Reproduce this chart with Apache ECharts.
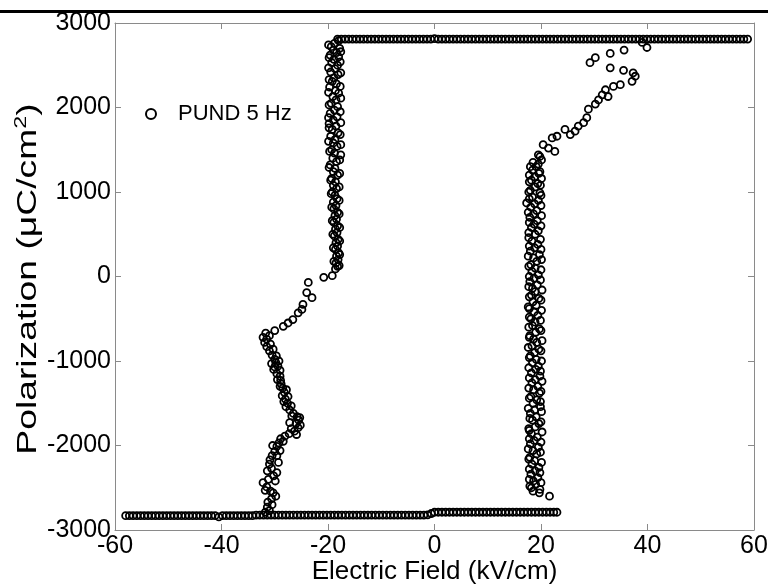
<!DOCTYPE html>
<html>
<head>
<meta charset="utf-8">
<script src="https://cdn.jsdelivr.net/npm/echarts@6/dist/echarts.min.js"></script>
<style>html,body{margin:0;padding:0;background:#fff;}#chart{width:768px;height:585px;}</style>
</head>
<body>
<div id="chart"></div>
<script>
// ---- data (E in kV/cm, P in uC/cm^2) ----
const xTicks = [-60, -40, -20, 0, 20, 40, 60];
const yTicks = [-3000, -2000, -1000, 0, 1000, 2000, 3000];
const seriesName = 'PUND 5 Hz';
const xTitle = 'Electric Field (kV/cm)';
const yTitle = '{a|Polarization (μC/cm}{b|2}{a|)}';

const topBranch = [[-18.2,2810],[-17.5,2810],[-16.8,2810],[-16.1,2810],[-15.4,2810],[-14.7,2810],[-14.0,2810],[-13.3,2810],[-12.6,2810],[-11.9,2810],[-11.2,2810],[-10.5,2810],[-9.8,2810],[-9.1,2810],[-8.4,2810],[-7.7,2810],[-7.0,2810],[-6.3,2810],[-5.6,2810],[-4.9,2810],[-4.2,2810],[-3.5,2810],[-2.8,2810],[-2.1,2810],[-1.4,2810],[-0.7,2810],[0.0,2815],[0.7,2810],[1.4,2810],[2.1,2810],[2.8,2810],[3.5,2810],[4.2,2810],[4.9,2810],[5.6,2810],[6.3,2810],[7.0,2810],[7.7,2810],[8.4,2810],[9.1,2810],[9.8,2810],[10.5,2810],[11.2,2810],[11.9,2810],[12.6,2810],[13.3,2810],[14.0,2810],[14.7,2810],[15.4,2810],[16.1,2810],[16.8,2810],[17.5,2810],[18.2,2810],[18.9,2810],[19.6,2810],[20.3,2810],[21.0,2810],[21.7,2810],[22.4,2810],[23.1,2810],[23.8,2810],[24.5,2810],[25.2,2810],[25.9,2810],[26.6,2810],[27.3,2810],[28.0,2810],[28.7,2810],[29.4,2810],[30.1,2810],[30.8,2810],[31.5,2810],[32.2,2810],[32.9,2810],[33.6,2810],[34.3,2810],[35.0,2810],[35.7,2810],[36.4,2810],[37.1,2810],[37.8,2810],[38.5,2810],[39.2,2810],[39.9,2810],[40.6,2810],[41.3,2810],[42.0,2810],[42.7,2810],[43.4,2810],[44.1,2810],[44.8,2810],[45.5,2810],[46.2,2810],[46.9,2810],[47.6,2810],[48.3,2810],[49.0,2810],[49.7,2810],[50.4,2810],[51.1,2810],[51.8,2810],[52.5,2810],[53.2,2810],[53.9,2810],[54.6,2810],[55.3,2810],[56.0,2810],[56.7,2810],[57.4,2810],[58.1,2810],[58.8,2810]];

const leftBand = [[-18.0,2790],[-18.8,2760],[-19.4,2720],[-17.8,2700],[-19.0,2680],[-18.4,2650],[-19.6,2620],[-18.0,2600],[-18.9,2570],[-19.3,2530],[-18.2,2500],[-18.7,2460],[-19.5,2420],[-18.1,2390],[-18.9,2350],[-19.2,2310],[-18.4,2280],[-19.7,2240],[-18.6,2200],[-18.0,2170],[-19.1,2130],[-18.5,2090],[-19.4,2050],[-18.2,2010],[-18.8,1970],[-19.6,1930],[-18.3,1890],[-19.0,1850],[-19.8,1810],[-18.5,1780],[-19.2,1740],[-18.1,1700],[-19.5,1660],[-18.7,1620],[-19.0,1580],[-18.3,1540],[-19.3,1500],[-18.8,1460],[-17.6,1440],[-19.1,1400],[-18.4,1360],[-19.6,1320],[-18.7,1280],[-19.0,1240],[-18.2,1200],[-19.3,1160],[-18.6,1120],[-19.0,1080],[-18.4,1040],[-19.2,1000],[-18.7,960],[-18.3,920],[-19.0,880],[-18.5,840],[-18.9,800],[-18.2,760],[-18.7,720],[-18.4,680],[-18.9,640],[-18.2,600],[-18.6,560],[-18.3,520],[-18.8,480],[-18.1,440],[-18.5,400],[-18.2,360],[-18.6,320],[-18.0,280],[-18.4,240],[-18.1,200],[-18.5,160],[-18.2,120],[-18.6,90]];

const leftBandOuter = [[-19.9,2740],[-17.6,2660],[-19.8,2590],[-17.7,2540],[-19.9,2470],[-17.6,2410],[-19.8,2330],[-17.7,2250],[-19.9,2180],[-17.6,2110],[-19.8,2030],[-17.7,1950],[-19.9,1880],[-17.6,1820],[-19.8,1760],[-17.7,1680],[-19.9,1600],[-17.6,1560],[-19.7,1480],[-17.8,1380],[-19.8,1290],[-17.8,1220],[-19.5,1140],[-17.9,1060],[-19.4,980],[-17.9,900],[-19.3,820],[-17.9,740],[-19.2,660],[-17.8,580],[-19.1,500],[-17.8,420],[-19.0,340],[-17.8,260],[-18.9,180],[-17.9,130]];

const leftSwitch = [[-19.2,10],[-20.8,-10],[-23.7,-70],[-24.0,-190],[-23.0,-250],[-24.7,-330],[-24.9,-390],[-25.6,-430],[-26.6,-510],[-27.5,-550],[-28.4,-590],[-30.0,-640],[-31.7,-670],[-32.2,-720],[-31.9,-780],[-31.5,-830],[-31.0,-880],[-30.5,-930],[-30.0,-980],[-29.8,-1020],[-30.0,-1070],[-29.4,-1060],[-30.2,-1100],[-29.6,-1150],[-29.0,-1180],[-29.5,-1220],[-28.8,-1270],[-28.5,-1320],[-28.2,-1370],[-28.6,-1410],[-28.0,-1450],[-27.6,-1500],[-27.9,-1540],[-27.2,-1580],[-26.5,-1620],[-25.3,-1670],[-25.8,-1660],[-25.5,-1700],[-27.2,-1730],[-26.0,-1740],[-25.6,-1790],[-26.3,-1830],[-27.3,-1860],[-28.1,-1890],[-28.9,-1920],[-29.2,-1970],[-29.6,-2010],[-30.0,-2070],[-29.6,-2120],[-30.9,-2170],[-31.0,-2220],[-30.6,-2270],[-29.6,-2320],[-30.2,-2360],[-31.2,-2400],[-32.2,-2440],[-31.5,-2490],[-30.8,-2540],[-30.3,-2560],[-30.6,-2630],[-31.3,-2670],[-31.4,-2730],[-31.0,-2770]];

const leftSwitchExtra = [[-31.0,-700],[-31.5,-740],[-30.8,-800],[-30.3,-860],[-29.7,-940],[-29.2,-1000],[-30.6,-1030],[-29.0,-1110],[-28.9,-1230],[-29.0,-1300],[-27.8,-1340],[-27.5,-1420],[-28.3,-1480],[-26.9,-1530],[-26.8,-1650],[-25.2,-1760],[-26.9,-1800],[-25.9,-1870],[-28.4,-1950],[-30.4,-2000],[-29.0,-2060],[-30.5,-2120],[-29.3,-2200],[-31.4,-2300],[-29.9,-2420],[-31.8,-2530],[-29.8,-2600],[-30.5,-2700],[-31.8,-2790]];

const bottomBranch = [[-58.0,-2830],[-57.3,-2830],[-56.6,-2830],[-55.9,-2830],[-55.2,-2830],[-54.5,-2830],[-53.8,-2830],[-53.1,-2830],[-52.4,-2830],[-51.7,-2830],[-51.0,-2830],[-50.3,-2830],[-49.6,-2830],[-48.9,-2830],[-48.2,-2830],[-47.5,-2830],[-46.8,-2830],[-46.1,-2830],[-45.4,-2830],[-44.7,-2830],[-44.0,-2830],[-43.3,-2830],[-42.6,-2830],[-41.9,-2830],[-41.2,-2830],[-40.5,-2845],[-39.8,-2830],[-39.1,-2830],[-38.4,-2830],[-37.7,-2830],[-37.0,-2830],[-36.3,-2830],[-35.6,-2830],[-34.9,-2830],[-34.2,-2830],[-33.5,-2825],[-32.8,-2825],[-32.1,-2825],[-31.4,-2825],[-30.7,-2825],[-30.0,-2825],[-29.3,-2825],[-28.6,-2825],[-27.9,-2825],[-27.2,-2825],[-26.5,-2825],[-25.8,-2825],[-25.1,-2825],[-24.4,-2825],[-23.7,-2825],[-23.0,-2825],[-22.3,-2825],[-21.6,-2825],[-20.9,-2825],[-20.2,-2825],[-19.5,-2825],[-18.8,-2825],[-18.1,-2825],[-17.4,-2825],[-16.7,-2825],[-16.0,-2825],[-15.3,-2825],[-14.6,-2825],[-13.9,-2825],[-13.2,-2825],[-12.5,-2825],[-11.8,-2825],[-11.1,-2825],[-10.4,-2825],[-9.7,-2825],[-9.0,-2825],[-8.3,-2825],[-7.6,-2825],[-6.9,-2825],[-6.2,-2825],[-5.5,-2825],[-4.8,-2825],[-4.1,-2825],[-3.4,-2825],[-2.7,-2825],[-2.0,-2825],[-1.3,-2820],[-0.6,-2805],[0.0,-2790],[0.7,-2790],[1.4,-2790],[2.1,-2790],[2.8,-2790],[3.5,-2790],[4.2,-2790],[4.9,-2790],[5.6,-2790],[6.3,-2790],[7.0,-2790],[7.7,-2790],[8.4,-2790],[9.1,-2790],[9.8,-2790],[10.5,-2790],[11.2,-2790],[11.9,-2790],[12.6,-2790],[13.3,-2790],[14.0,-2790],[14.7,-2790],[15.4,-2790],[16.1,-2790],[16.8,-2790],[17.5,-2790],[18.2,-2790],[18.9,-2790],[19.6,-2790],[20.3,-2790],[21.0,-2790],[21.7,-2790],[22.4,-2790],[23.0,-2790]];

const rightBand = [[18.5,-2540],[19.7,-2560],[21.6,-2600],[18.2,-2500],[19.0,-2460],[18.6,-2420],[19.4,-2380],[18.1,-2340],[18.9,-2300],[19.6,-2260],[18.3,-2220],[18.8,-2180],[17.9,-2140],[19.2,-2100],[18.5,-2060],[19.5,-2020],[18.0,-1980],[18.7,-1940],[19.3,-1900],[18.2,-1860],[17.8,-1820],[18.9,-1780],[19.6,-1740],[18.4,-1700],[19.1,-1660],[18.0,-1620],[18.8,-1580],[19.9,-1540],[18.5,-1500],[19.2,-1460],[18.1,-1420],[19.7,-1380],[18.6,-1340],[19.4,-1300],[18.3,-1260],[18.9,-1220],[19.8,-1180],[18.2,-1140],[19.0,-1100],[19.5,-1060],[18.4,-1020],[19.1,-980],[18.0,-940],[18.8,-900],[19.6,-860],[18.3,-820],[19.2,-780],[18.6,-740],[17.9,-700],[19.0,-660],[19.7,-620],[18.4,-580],[18.9,-540],[18.1,-500],[19.4,-460],[18.7,-420],[17.8,-380],[19.1,-340],[18.5,-300],[19.6,-260],[18.2,-220],[18.9,-180],[18.4,-140],[19.3,-100],[17.9,-60],[18.7,-20],[19.5,20],[18.3,60],[18.9,100],[18.1,140],[19.2,180],[18.6,220],[19.7,260],[18.0,300],[18.8,340],[19.4,380],[18.3,420],[17.7,460],[18.9,500],[19.5,540],[18.2,580],[18.7,620],[19.3,660],[17.9,700],[18.6,740],[19.2,780],[18.1,820],[18.8,860],[17.3,870],[19.5,900],[18.4,940],[19.8,990],[18.0,1020],[18.9,1060],[19.4,1100],[18.2,1140],[18.8,1180],[19.6,1220],[18.4,1260],[19.1,1300],[18.5,1350],[20.1,1380],[19.8,1420],[19.5,1440],[22.6,1480],[21.4,1520],[20.4,1560],[22.1,1640],[23.0,1660]];

const rightBandOuter = [[19.8,-2520],[17.9,-2480],[20.0,-2440],[17.8,-2400],[19.8,-2320],[17.8,-2280],[20.1,-2200],[17.7,-2160],[19.9,-2080],[17.6,-2040],[20.0,-1960],[17.8,-1920],[20.2,-1840],[17.7,-1800],[20.0,-1720],[17.9,-1680],[20.1,-1600],[17.6,-1560],[19.9,-1480],[17.8,-1440],[20.0,-1360],[17.7,-1320],[20.2,-1240],[17.8,-1200],[19.9,-1120],[17.7,-1080],[20.1,-1000],[17.8,-960],[20.0,-880],[17.6,-840],[20.2,-760],[17.8,-720],[20.0,-640],[17.7,-600],[19.9,-520],[17.8,-480],[20.1,-400],[17.6,-360],[20.0,-280],[17.8,-240],[20.2,-160],[17.7,-120],[19.9,-40],[17.8,0],[20.0,80],[17.7,120],[20.1,200],[17.6,240],[20.0,320],[17.8,360],[19.9,440],[17.7,520],[20.0,600],[17.8,640],[20.1,720],[17.6,760],[20.0,840],[17.8,920],[20.0,960],[17.7,1000],[19.9,1080],[17.8,1120],[20.1,1160],[17.8,1200],[19.8,1240],[18.0,1300],[19.5,1330]];

const rightSwitch = [[24.5,1740],[25.5,1680],[26.4,1720],[27.0,1780],[28.0,1820],[28.6,1880],[28.9,1980],[30.2,2040],[30.8,2090],[31.5,2150],[32.1,2210],[32.6,2130],[33.6,2250],[34.9,2270],[37.1,2310],[37.7,2370],[37.3,2410],[29.2,2530],[30.2,2590],[33.0,2640],[33.0,2470],[35.6,2680],[35.5,2440],[39.0,2770],[39.9,2710]];

const allPoints = [].concat(topBranch, leftBand, leftBandOuter, leftSwitch, leftSwitchExtra, bottomBranch, rightBand, rightBandOuter, rightSwitch);

const chart = echarts.init(document.getElementById('chart'), null, {renderer: 'canvas'});
const FONT = 'Liberation Sans, Arial, sans-serif';
const frameColor = '#8a8a8a';
const plain = function (v) { return String(v); };

function axisCommon(showLabel) {
  return {
    type: 'value',
    axisLine: {show: true, onZero: false, lineStyle: {color: frameColor, width: 1}},
    axisTick: {show: true, inside: true, length: 6, lineStyle: {color: frameColor, width: 1}},
    axisLabel: {show: showLabel, fontSize: 25, color: '#000', fontFamily: FONT, margin: 4, formatter: plain},
    splitLine: {show: false}
  };
}
function xAxisBase(pos, showLabel) {
  const a = axisCommon(showLabel);
  a.position = pos; a.min = xTicks[0]; a.max = xTicks[xTicks.length - 1]; a.interval = 20;
  return a;
}
function yAxisBase(pos, showLabel) {
  const a = axisCommon(showLabel);
  a.position = pos; a.min = yTicks[0]; a.max = yTicks[yTicks.length - 1]; a.interval = 1000;
  return a;
}

const xb = xAxisBase('bottom', true);
xb.name = xTitle;
xb.nameLocation = 'middle';
xb.nameGap = 29;
xb.nameMoveOverlap = false;
xb.nameTextStyle = {fontSize: 26, color: '#000', fontFamily: FONT};

chart.setOption({
  animation: false,
  backgroundColor: '#fff',
  grid: {left: 115, right: 14, top: 23, bottom: 55, containLabel: false, outerBoundsMode: 'none'},
  graphic: [
    {type: 'rect', left: 0, top: 10, shape: {width: 768, height: 3}, style: {fill: '#000'}, silent: true},
    {type: 'text', x: 29, y: 279, rotation: Math.PI / 2, scaleX: 1.38, silent: true,
      style: {text: yTitle, align: 'center', verticalAlign: 'middle', fill: '#000',
        font: '27px Liberation Sans',
        rich: {
          a: {fontSize: 27, fontFamily: FONT, fill: '#000', lineHeight: 32},
          b: {fontSize: 17, fontFamily: FONT, fill: '#000', verticalAlign: 'top', lineHeight: 19}
        }}}
  ],
  legend: {
    show: true, data: [seriesName], left: 140, top: 98, orient: 'vertical',
    itemWidth: 10, itemHeight: 10, selectedMode: false,
    textStyle: {fontSize: 22, color: '#000', fontFamily: FONT, padding: [0, 0, 0, 17]},
    itemStyle: {color: 'rgba(0,0,0,0)', borderColor: '#000', borderWidth: 2}
  },
  xAxis: [xb, xAxisBase('top', false)],
  yAxis: [yAxisBase('left', true), yAxisBase('right', false)],
  series: [{
    name: seriesName, type: 'scatter', xAxisIndex: 0, yAxisIndex: 0,
    data: allPoints, symbol: 'circle', symbolSize: 7, silent: true,
    itemStyle: {color: 'rgba(0,0,0,0)', borderColor: '#000', borderWidth: 1.8, opacity: 1}
  }]
});
</script>
</body>
</html>
